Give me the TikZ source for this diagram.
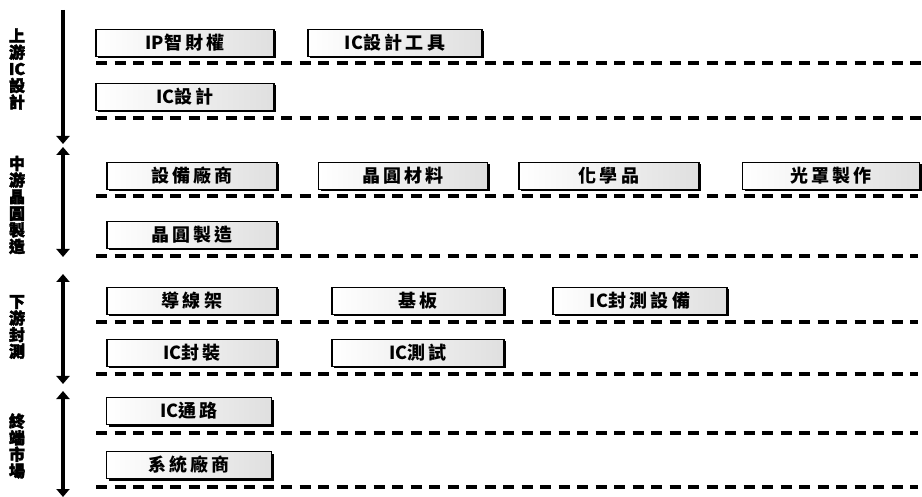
\documentclass[tikz,border=0pt]{standalone}
\usepackage{fontspec}
\newfontfamily\cjk{Noto Sans CJK TC}[LetterSpace=18]
\newfontfamily\cjktight{Noto Sans CJK TC}
\newfontfamily\cjkheavy{Noto Sans CJK TC}[BoldFeatures={FakeBold=2.5}]
\usetikzlibrary{arrows.meta,shadows}
\begin{document}
\begin{tikzpicture}[x=1pt,y=-1pt,
  itembox/.style={draw=black,line width=1.6pt,left color=white,right color=gray!25,
    minimum height=27pt,inner sep=0pt,font=\cjk\bfseries\fontsize{18}{19}\selectfont,
    drop shadow={shadow xshift=2.2pt,shadow yshift=-2pt,fill=black,opacity=1}},
  sepline/.style={line width=3.2pt,dash pattern=on 11pt off 7.5pt},
  stagelabel/.style={font=\cjkheavy\bfseries\fontsize{16}{16.6}\selectfont,align=center,inner sep=0pt},
  stagearrow/.style={line width=4.5pt,-{Triangle[width=13pt,length=8pt]}},
  stagearrowboth/.style={line width=4.5pt,{Triangle[width=13pt,length=8pt]}-{Triangle[width=13pt,length=8pt]}}
]
\useasboundingbox (0,0) rectangle (922,497);

% stage labels
\node[stagelabel] (s1) at (17,69) {上\\游\\IC\\設\\計};
\node[stagelabel] (s2) at (17,205) {中\\游\\晶\\圓\\製\\造};
\node[stagelabel] (s3) at (17,327) {下\\游\\封\\測};
\node[stagelabel] (s4) at (17,446) {終\\端\\市\\場};

% stage arrows
\coordinate (a1t) at (63,10);  \coordinate (a1b) at (63,144);
\coordinate (a2t) at (63,147); \coordinate (a2b) at (63,257);
\coordinate (a3t) at (63,274); \coordinate (a3b) at (63,384);
\coordinate (a4t) at (63,391); \coordinate (a4b) at (63,497);
\draw[stagearrow] (a1t) -- (a1b);
\draw[stagearrowboth] (a2t) -- (a2b);
\draw[stagearrowboth] (a3t) -- (a3b);
\draw[stagearrowboth] (a4t) -- (a4b);

% separator lines
\foreach \i/\y/\xe in {1/63/922,2/118/922,3/196/918,4/256/918,5/322/918,6/374/918,7/433/918,8/487/918}{
  \coordinate (l\i s) at (96,\y);
  \coordinate (l\i e) at (\xe,\y);
  \draw[sepline] (l\i s) -- (l\i e);
}

% upstream
\node[itembox,minimum width=178pt] (ip) at (185,43) {{\cjktight IP}智財權};
\node[itembox,minimum width=174pt] (tool) at (395,43) {{\cjktight IC}設計工具};
\node[itembox,minimum width=178pt] (icd) at (185,97) {{\cjktight IC}設計};

% midstream
\node[itembox,minimum width=170pt] (eq) at (192,176) {設備廠商};
\node[itembox,minimum width=169pt] (mat) at (403,176) {晶圓材料};
\node[itembox,minimum width=180pt] (chem) at (609,176) {化學品};
\node[itembox,minimum width=177pt] (mask) at (831,176) {光罩製作};
\node[itembox,minimum width=170pt] (fab) at (192,235) {晶圓製造};

% downstream
\node[itembox,minimum width=170pt] (lead) at (192,301) {導線架};
\node[itembox,minimum width=172pt] (sub) at (418,301) {基板};
\node[itembox,minimum width=174pt] (pteq) at (640,301) {{\cjktight IC}封測設備};
\node[itembox,minimum width=170pt] (pkg) at (192,353) {{\cjktight IC}封裝};
\node[itembox,minimum width=172pt] (test) at (418,353) {{\cjktight IC}測試};

% terminal market
\node[itembox,minimum width=165pt] (dist) at (189,411) {{\cjktight IC}通路};
\node[itembox,minimum width=165pt] (sys) at (189,465) {系統廠商};
\end{tikzpicture}
\end{document}
